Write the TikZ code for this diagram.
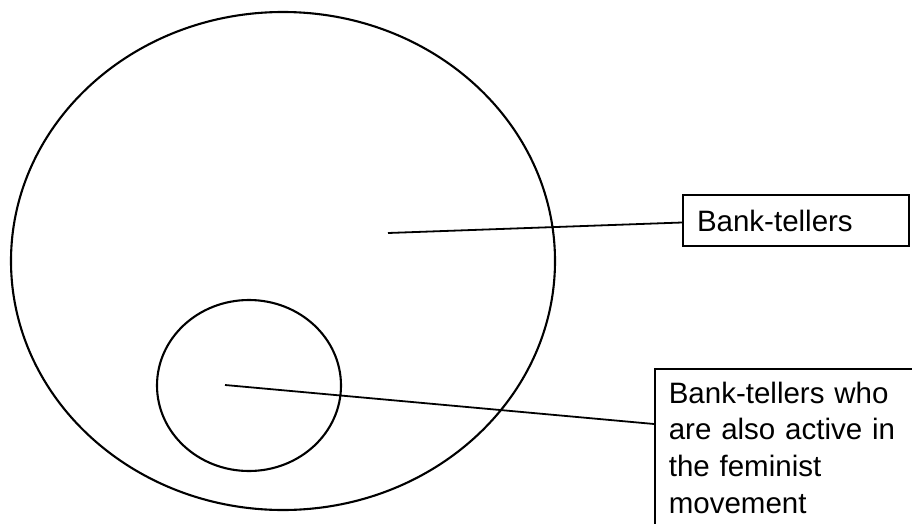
\documentclass[tikz,border=0pt]{standalone}
\usepackage{fontspec}
\setmainfont{Liberation Sans}
\usetikzlibrary{shapes.geometric}
\begin{document}
\begin{tikzpicture}[x=1pt,y=-1pt,
  setline/.style={draw, line width=2.1pt, ellipse, inner sep=0pt},
  lbl/.style={draw, line width=1.6pt, rectangle, align=left, inner xsep=14pt,
    font=\fontsize{29.5}{36.7}\selectfont},
  pointer/.style={line width=1.8pt}]
\useasboundingbox (0,0) rectangle (912,524);
\node[setline, minimum width=544pt, minimum height=498pt] (big) at (283,261) {};
\node[setline, minimum width=184pt, minimum height=171pt] (small) at (249,385.5) {};
\node[lbl, text width=198pt, minimum height=51pt, inner ysep=0pt] (box1) at (796,220.5) {Bank-tellers};
\node[lbl, text width=250pt, anchor=north west, inner ysep=13pt] (box2) at (654,368)
  {Bank-tellers who\\are also active in\\the feminist\\movement};
\coordinate (p1) at (388,233);
\coordinate (p2) at (225,385);
\draw[pointer] (p1) -- ([yshift=-2pt]box1.west);
\draw[pointer] (p2) -- ([yshift=-56pt]box2.north west);
\end{tikzpicture}
\end{document}
